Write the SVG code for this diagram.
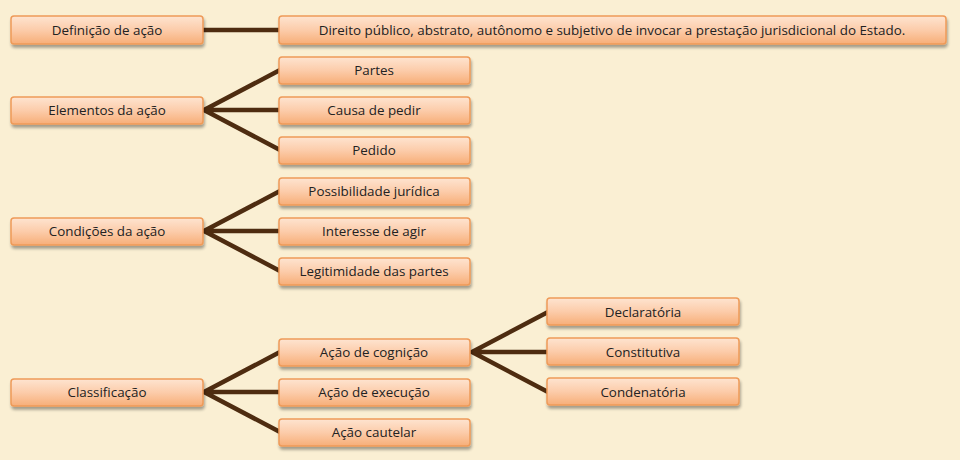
<svg xmlns="http://www.w3.org/2000/svg" width="960" height="460" viewBox="0 0 960 460">
<defs>
<linearGradient id="g" x1="0" y1="0" x2="0" y2="1">
<stop offset="0" stop-color="#fee4d0"/>
<stop offset="0.5" stop-color="#fcccaa"/>
<stop offset="1" stop-color="#f7ae78"/>
</linearGradient>
<filter id="sh" x="-10%" y="-30%" width="120%" height="170%">
<feGaussianBlur in="SourceAlpha" stdDeviation="1.5"/>
<feOffset dx="1" dy="2.5" result="b"/>
<feComponentTransfer><feFuncA type="linear" slope="0.35"/></feComponentTransfer>
<feMerge><feMergeNode/><feMergeNode in="SourceGraphic"/></feMerge>
</filter>
</defs>
<style>
.box{fill:url(#g);stroke:#ee9a58;stroke-width:1.5;filter:url(#sh)}
.t{font-family:"Open Sans","Liberation Sans",sans-serif;font-size:13.4px;fill:#222;text-anchor:middle;dominant-baseline:central}
.c{stroke:#4e2c10;stroke-width:4.5;fill:none;stroke-linecap:butt}
</style>
<rect width="960" height="460" fill="#faefd3"/>
<g id="connectors">
<line class="c" x1="203" y1="30" x2="280" y2="30"/>
<path class="c" d="M280,70 L204,110 L280,150 M204,110 L280,110"/>
<path class="c" d="M280,191 L204,231 L280,271 M204,231 L280,231"/>
<path class="c" d="M280,352 L204,392 L280,432 M204,392 L280,392"/>
<path class="c" d="M548,312 L472,352 L548,392 M472,352 L548,352"/>
</g>
<g id="n-definicao"><rect class="box" x="11" y="16" width="192" height="28" rx="3"/><text class="t" x="107" y="30">Definição de ação</text></g>
<g id="n-direito"><rect class="box" x="279" y="16" width="667" height="28" rx="3"/><text class="t" x="612" y="30">Direito público, abstrato, autônomo e subjetivo de invocar a prestação jurisdicional do Estado.</text></g>
<g id="n-elementos"><rect class="box" x="11" y="97" width="192" height="27" rx="3"/><text class="t" x="107" y="110">Elementos da ação</text></g>
<g id="n-partes"><rect class="box" x="279" y="57" width="191" height="27" rx="3"/><text class="t" x="374" y="70">Partes</text></g>
<g id="n-causa"><rect class="box" x="279" y="97" width="191" height="27" rx="3"/><text class="t" x="374" y="110">Causa de pedir</text></g>
<g id="n-pedido"><rect class="box" x="279" y="137" width="191" height="27" rx="3"/><text class="t" x="374" y="150">Pedido</text></g>
<g id="n-condicoes"><rect class="box" x="11" y="218" width="192" height="27" rx="3"/><text class="t" x="107" y="231">Condições da ação</text></g>
<g id="n-possibilidade"><rect class="box" x="279" y="178" width="191" height="27" rx="3"/><text class="t" x="374" y="191">Possibilidade jurídica</text></g>
<g id="n-interesse"><rect class="box" x="279" y="218" width="191" height="27" rx="3"/><text class="t" x="374" y="231">Interesse de agir</text></g>
<g id="n-legitimidade"><rect class="box" x="279" y="258" width="191" height="27" rx="3"/><text class="t" x="374" y="271">Legitimidade das partes</text></g>
<g id="n-classificacao"><rect class="box" x="11" y="379" width="192" height="27" rx="3"/><text class="t" x="107" y="392">Classificação</text></g>
<g id="n-cognicao"><rect class="box" x="279" y="339" width="191" height="27" rx="3"/><text class="t" x="374" y="352">Ação de cognição</text></g>
<g id="n-execucao"><rect class="box" x="279" y="379" width="191" height="27" rx="3"/><text class="t" x="374" y="392">Ação de execução</text></g>
<g id="n-cautelar"><rect class="box" x="279" y="419" width="191" height="27" rx="3"/><text class="t" x="374" y="432">Ação cautelar</text></g>
<g id="n-declaratoria"><rect class="box" x="547" y="298" width="192" height="27" rx="3"/><text class="t" x="643" y="312">Declaratória</text></g>
<g id="n-constitutiva"><rect class="box" x="547" y="338" width="192" height="27" rx="3"/><text class="t" x="643" y="352">Constitutiva</text></g>
<g id="n-condenatoria"><rect class="box" x="547" y="378" width="192" height="27" rx="3"/><text class="t" x="643" y="392">Condenatória</text></g>
</svg>
